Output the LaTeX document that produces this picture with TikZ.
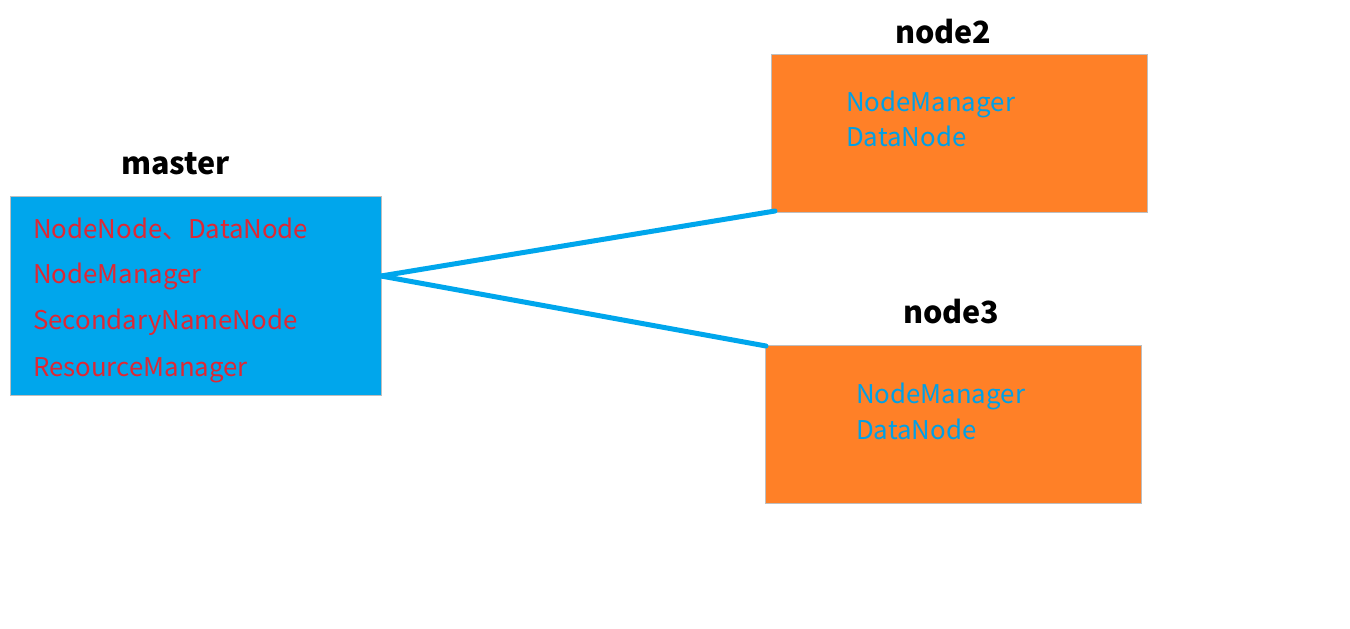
\documentclass[tikz,border=0pt]{standalone}
\usepackage{fontspec}
\setmainfont{Noto Sans CJK SC}
\definecolor{mblue}{RGB}{0,166,236}
\definecolor{morange}{RGB}{255,128,39}
\definecolor{mred}{RGB}{222,40,52}
\definecolor{tblue}{RGB}{0,160,230}
\definecolor{bgray}{RGB}{190,190,190}
\begin{document}
\begin{tikzpicture}[x=1pt,y=-1pt,
  box/.style={draw=bgray, line width=1pt, anchor=north west, inner sep=0pt},
  title/.style={font=\fontsize{30.5}{34}\selectfont\bfseries, text=black, inner sep=0pt, anchor=base west},
  mtxt/.style={font=\fontsize{25.8}{30}\selectfont, text=mred, anchor=base west, inner sep=0pt},
  ntxt/.style={font=\fontsize{25.8}{30}\selectfont, text=tblue, anchor=base west, inner sep=0pt},
  link/.style={draw=mblue, line width=5pt, line cap=round}]
\useasboundingbox (0,0) rectangle (1350,629);
% master
\node[box, fill=mblue, minimum width=371pt, minimum height=199pt] (m) at (10,196) {};
\node[title] (mt) at (121,174) {master};
\node[mtxt] (m1) at (33,238) {NodeNode、DataNode};
\node[mtxt] (m2) at (33,283.5) {NodeManager};
\node[mtxt] (m3) at (33,329.5) {SecondaryNameNode};
\node[mtxt] (m4) at (33,376) {ResourceManager};
% node2
\node[box, fill=morange, minimum width=376pt, minimum height=158pt] (n2) at (771,54) {};
\node[title] (n2t) at (895,43) {node2};
\node[ntxt] (n21) at (846,111) {NodeManager};
\node[ntxt] (n22) at (846,146.5) {DataNode};
% node3
\node[box, fill=morange, minimum width=376pt, minimum height=158pt] (n3) at (765,345) {};
\node[title] (n3t) at (903,323) {node3};
\node[ntxt] (n31) at (856,403) {NodeManager};
\node[ntxt] (n32) at (856,439) {DataNode};
% connectors
\coordinate (ms) at (381,276);
\coordinate (e2) at (775,211);
\coordinate (e3) at (766,346);
\draw[link] (ms) -- (e2);
\draw[link] (ms) -- (e3);
\end{tikzpicture}
\end{document}
